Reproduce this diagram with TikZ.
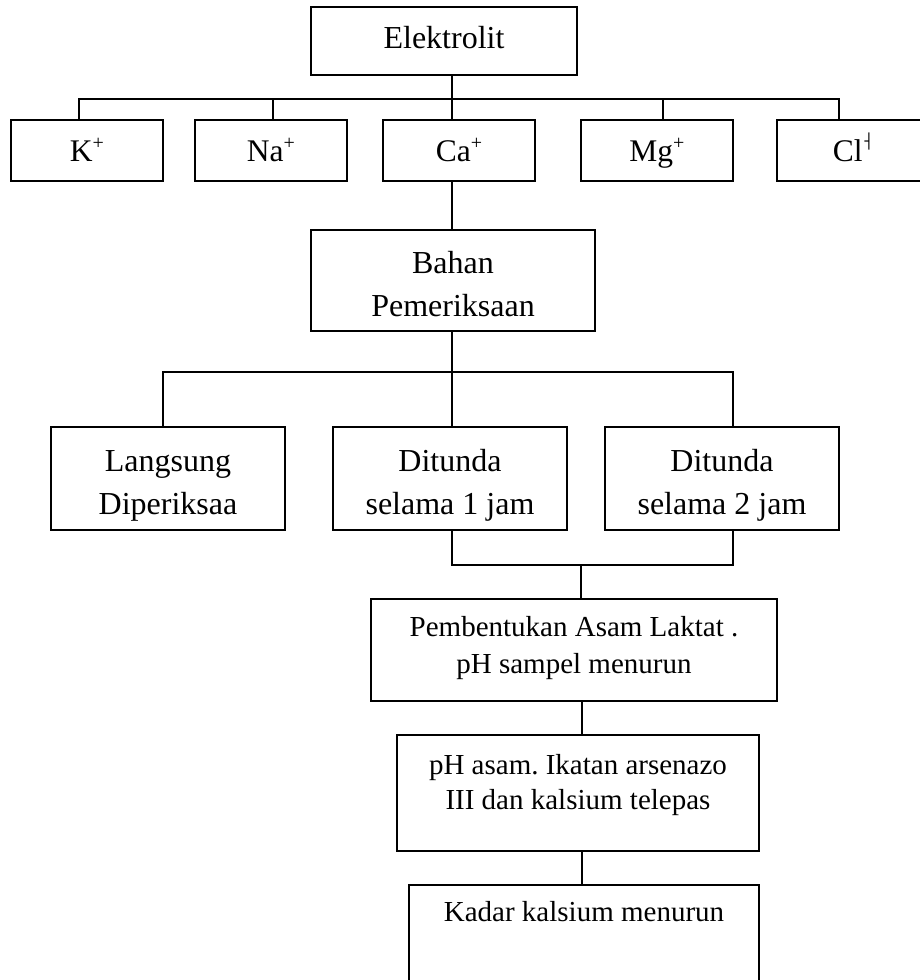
\documentclass[tikz,border=0pt]{standalone}
\usepackage{fontspec}
\setmainfont{Liberation Serif}
\newfontfamily\simbol{DejaVu Sans}
\frenchspacing
\newcommand{\ion}[1]{\raisebox{12pt}{\fontsize{20}{20}\selectfont #1}}
\newcommand{\ionmin}{\kern2pt\raisebox{15pt}{\fontsize{14.5}{14.5}\selectfont\simbol ┤}}
\newcommand{\ruang}[1]{\rule[-#1]{0pt}{0pt}}
\newcommand{\atas}[1]{\rule{0pt}{#1}}
\newcommand{\hurufA}{\fontsize{32}{43}\selectfont}
\newcommand{\hurufB}{\fontsize{29}{37}\selectfont}
\newcommand{\hurufC}{\fontsize{29}{35}\selectfont}

\begin{document}
\begin{tikzpicture}[x=1pt,y=-1pt,
    kotak/.style={draw, line width=1.5pt, inner sep=0pt, align=center,
        execute at begin node=\strut, execute at end node=\strut},
    ion/.style={kotak, minimum width=152pt, minimum height=61pt, font=\fontsize{31.5}{57}\selectfont},
    garis/.style={line width=1.5pt}]
    \useasboundingbox (0,0) rectangle (920,980);
    % Baris atas
    \node[kotak, minimum width=266pt, minimum height=68pt, font=\fontsize{32}{35}\selectfont] (elektrolit) at (444,41) {Elektrolit};
    \node[ion] (kalium) at (87,150.5) {K\ion{+}};
    \node[ion] (natrium) at (271,150.5) {Na\ion{+}};
    \node[ion] (kalsium) at (459,150.5) {Ca\ion{+}};
    \node[ion] (magnesium) at (657,150.5) {Mg\ion{+}};
    \node[ion] (klorida) at (853,150.5) {Cl\ionmin};
    % Bahan dan perlakuan
    \node[kotak, minimum width=284pt, minimum height=101pt, font=\hurufA] (bahan) at (453,280.5) {\atas{42pt}Bahan\\Pemeriksaan};
    \node[kotak, minimum width=234pt, minimum height=103pt, font=\hurufA] (langsung) at (168,478.5) {\atas{42pt}Langsung\\Diperiksaa};
    \node[kotak, minimum width=234pt, minimum height=103pt, font=\hurufA] (tunda1) at (450,478.5) {\atas{42pt}Ditunda\\selama 1 jam};
    \node[kotak, minimum width=234pt, minimum height=103pt, font=\hurufA] (tunda2) at (722,478.5) {\atas{42pt}Ditunda\\selama 2 jam};
    % Akibat penundaan
    \node[kotak, minimum width=406pt, minimum height=102pt, font=\hurufB] (laktat) at (574,650) {Pembentukan Asam Laktat .\\pH sampel menurun};
    \node[kotak, minimum width=362pt, minimum height=116pt, font=\hurufC] (phasam) at (578,793) {pH asam. Ikatan arsenazo\\III dan kalsium telepas\ruang{23pt}};
    \node[kotak, minimum width=350pt, minimum height=120pt, font=\hurufB] (kadar) at (584,945) {Kadar kalsium menurun\ruang{72pt}};

    \coordinate (busatas) at (0,99);
    \coordinate (bustengah) at (0,372);
    \coordinate (busbawah) at (0,565);

    % Garis elektrolit
    \draw[garis] ([xshift=8pt]elektrolit.south) -- ([xshift=8pt]elektrolit.south |- busatas);
    \draw[garis] ([xshift=-8pt]kalium.north) -- ([xshift=-8pt]kalium.north |- busatas) -- ([xshift=-14pt]klorida.north |- busatas) -- ([xshift=-14pt]klorida.north);
    \foreach \n/\s in {natrium/2, kalsium/-7, magnesium/6}
        \draw[garis] ([xshift=\s pt]\n.north) -- ([xshift=\s pt]\n.north |- busatas);
    \draw[garis] ([xshift=-7pt]kalsium.south) -- ([xshift=-7pt]kalsium.south |- bahan.north);

    % Garis bahan pemeriksaan
    \draw[garis] ([xshift=-1pt]bahan.south) -- ([xshift=-1pt]bahan.south |- bustengah);
    \draw[garis] ([xshift=-5pt]langsung.north) -- ([xshift=-5pt]langsung.north |- bustengah) -- ([xshift=11pt]tunda2.north |- bustengah) -- ([xshift=11pt]tunda2.north);
    \draw[garis] ([xshift=2pt]tunda1.north) -- ([xshift=2pt]tunda1.north |- bustengah);

    % Garis penundaan
    \draw[garis] ([xshift=2pt]tunda1.south) -- ([xshift=2pt]tunda1.south |- busbawah) -- ([xshift=11pt]tunda2.south |- busbawah) -- ([xshift=11pt]tunda2.south);
    \draw[garis] ([xshift=7pt]laktat.north) -- ([xshift=7pt]laktat.north |- busbawah);
    \draw[garis] ([xshift=8pt]laktat.south) -- ([xshift=8pt]laktat.south |- phasam.north);
    \draw[garis] ([xshift=4pt]phasam.south) -- ([xshift=4pt]phasam.south |- kadar.north);
\end{tikzpicture}
\end{document}
